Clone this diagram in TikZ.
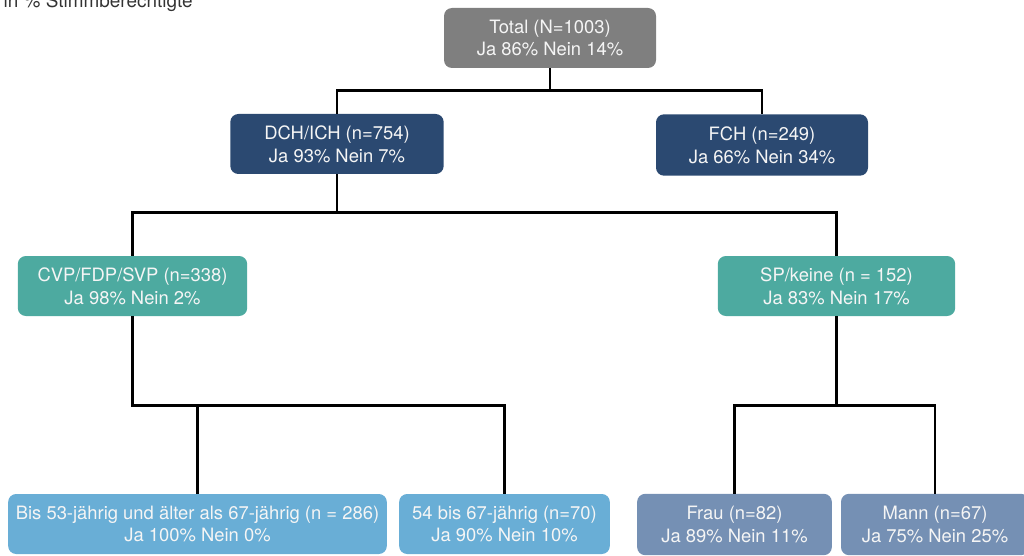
\documentclass[tikz,border=0pt]{standalone}
\usepackage{fontspec}
\setmainfont{TeX Gyre Heros}
\usetikzlibrary{calc}

\definecolor{boxgray}{HTML}{7F7F7F}
\definecolor{boxnavy}{HTML}{2B4971}
\definecolor{boxteal}{HTML}{4DAAA0}
\definecolor{boxsky}{HTML}{69AED6}
\definecolor{boxslate}{HTML}{7590B4}

\begin{document}
\begin{tikzpicture}[x=0.75pt, y=-0.75pt,
					box/.style={rounded corners=6pt, inner sep=0pt, align=center, text=white!92!gray, font=\fontsize{13.8}{17}\selectfont},
					link/.style={line width=2.2pt}]
					\useasboundingbox (0,0) rectangle (1024,556);
					
					\node[anchor=base west, text=black!80, font=\fontsize{14.2}{17}\selectfont] (unit) at (-1,7.5) {in \% Stimmberechtigte};
					
					\node[box, fill=boxgray, minimum width=159pt, minimum height=45pt] (total) at (550,38) {Total (N=1003)\\Ja 86\% Nein 14\%};
					
					\node[box, fill=boxnavy, minimum width=160pt, minimum height=45pt] (dch) at (337,144) {DCH/ICH (n=754)\\Ja 93\% Nein 7\%};
					\node[box, fill=boxnavy, minimum width=159pt, minimum height=46pt] (fch) at (762,145) {FCH (n=249)\\Ja 66\% Nein 34\%};
					
					\node[box, fill=boxteal, minimum width=172pt, minimum height=45pt] (cvp) at (132.5,286) {CVP/FDP/SVP (n=338)\\Ja 98\% Nein 2\%};
					\node[box, fill=boxteal, minimum width=178pt, minimum height=45pt] (sp) at (836.5,286) {SP/keine (n = 152)\\Ja 83\% Nein 17\%};
					
					\node[box, fill=boxsky, minimum width=284pt, minimum height=45pt] (young) at (197.5,524) {Bis 53-jährig und älter als 67-jährig (n = 286)\\Ja 100\% Nein 0\%};
					\node[box, fill=boxsky, minimum width=158pt, minimum height=45pt] (mid) at (504.5,524) {54 bis 67-jährig (n=70)\\Ja 90\% Nein 10\%};
					\node[box, fill=boxslate, minimum width=146pt, minimum height=46pt] (frau) at (734.5,524.5) {Frau (n=82)\\Ja 89\% Nein 11\%};
					\node[box, fill=boxslate, minimum width=141pt, minimum height=46pt] (mann) at (935,524.5) {Mann (n=67)\\Ja 75\% Nein 25\%};
					
					\draw[link] (total.south) -- ++(0,22) coordinate (t1);
					\draw[link] (dch.north) |- (t1) -| (fch.north);
					
					\draw[link] (dch.south) -- ++(0,38) coordinate (d1);
					\draw[link] (cvp.north) |- (d1) -| (sp.north);
					
					\draw[link] (cvp.south) -- ++(0,89) coordinate (c1) -| (mid.north);
					\draw[link] (young.north) -- (young.north |- c1);
					
					\draw[link] (sp.south) -- ++(0,89) coordinate (s1);
					\draw[link] (frau.north) |- (s1) -| (mann.north);
\end{tikzpicture}
\end{document}
